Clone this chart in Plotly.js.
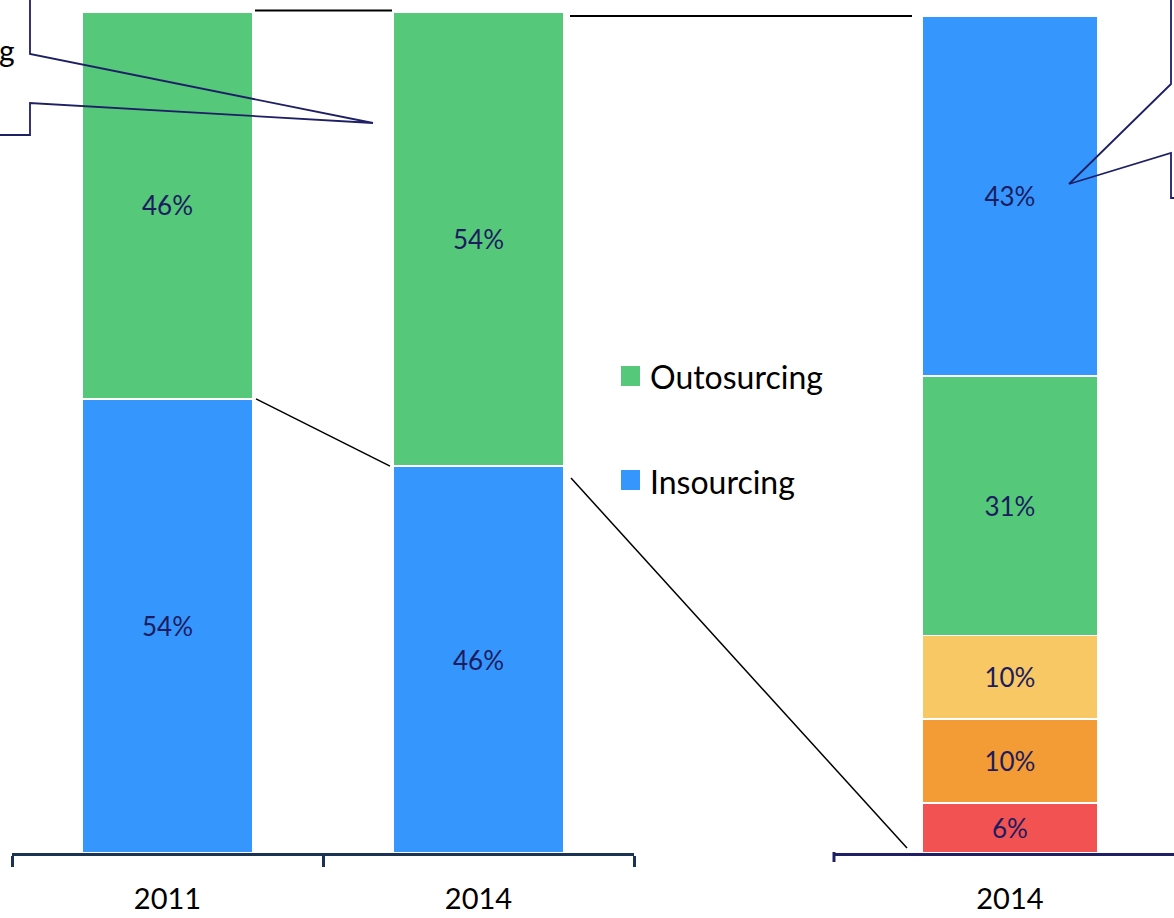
<!DOCTYPE html>
<html>
<head>
<meta charset="utf-8">
<script src="https://cdn.plot.ly/plotly-3.0.1.min.js"></script>
<style>html,body{margin:0;padding:0;background:#fff;}#chart{width:1174px;height:918px;}</style>
</head>
<body>
<div id="chart"></div>
<script>
// ---- data ----
const years = ["2011", "2014"];
const insourcing = [54, 46];
const outsourcing = [46, 54];
const breakdownYear = ["2014"];
const breakdownLabels = ["s1", "s2", "s3", "Outosurcing", "Insourcing"];
const breakdownValues = [6, 10, 10, 31, 43];
const breakdownColors = ["#F25252", "#F39B34", "#F7C864", "#55C87A", "#3597FE"];
const seriesNames = ["Insourcing", "Outosurcing"];
const seriesColors = ["#3597FE", "#55C87A"];
const legendNames = ["Outosurcing", "Insourcing"];
const legendColors = ["#55C87A", "#3597FE"];

// ---- layout helpers (pixel -> paper) ----
const W = 1174, H = 918, MT = 12, MB = 65;
const plotH = H - MT - MB;
const baseY = H - MB;
const px = x => x / W;
const py = y => (baseY - y) / plotH;

const labelColor = "#1c1c5e";
const fontFam = "Lato, 'Open Sans', sans-serif";
const barFontSize = 26;

const traces = [];
traces.push({
  type: "bar", x: years, y: insourcing, name: seriesNames[0],
  marker: {color: seriesColors[0], line: {color: "#ffffff", width: 1.5}},
  texttemplate: "%{y}%", textposition: "inside", insidetextanchor: "middle",
  textfont: {color: labelColor, size: barFontSize, family: fontFam},
  showlegend: false, xaxis: "x", yaxis: "y", hoverinfo: "skip"
});
traces.push({
  type: "bar", x: years, y: outsourcing, name: seriesNames[1],
  marker: {color: seriesColors[1], line: {color: "#ffffff", width: 1.5}},
  texttemplate: "%{y}%", textposition: "inside", insidetextanchor: "middle",
  textfont: {color: labelColor, size: barFontSize, family: fontFam},
  showlegend: false, xaxis: "x", yaxis: "y", hoverinfo: "skip"
});
breakdownValues.forEach((v, i) => {
  traces.push({
    type: "bar", x: breakdownYear, y: [v], name: breakdownLabels[i],
    marker: {color: breakdownColors[i], line: {color: "#ffffff", width: 1.5}},
    texttemplate: "%{y}%", textposition: "inside", insidetextanchor: "middle",
    textfont: {color: labelColor, size: barFontSize, family: fontFam},
    showlegend: false, xaxis: "x2", yaxis: "y2", hoverinfo: "skip"
  });
});

const splitL = insourcing[0], splitR = insourcing[1];
const navy = "#1f1f66";

const shapes = [
  // left chart connectors
  {type: "line", xref: "paper", yref: "paper", x0: px(255), x1: px(392), y0: py(10.5), y1: py(10.5), line: {color: "#000", width: 2}},
  {type: "line", xref: "paper", yref: "y", x0: px(256), x1: px(390), y0: splitL, y1: splitR, line: {color: "#000", width: 1.5}},
  // connectors to breakdown bar
  {type: "line", xref: "paper", yref: "y2", x0: px(570), x1: px(912), y0: 100, y1: 100, line: {color: "#000", width: 1.8}},
  {type: "line", xref: "paper", yref: "paper", x0: px(571), y0: py(478), x1: px(907), y1: py(848), line: {color: "#000", width: 1.5}},
  // small tick at left end of right axis
  {type: "line", xref: "paper", yref: "paper", x0: px(834), x1: px(834), y0: py(852), y1: py(862), line: {color: navy, width: 3}},
  // left callout
  {type: "path", xref: "paper", yref: "paper",
   path: `M ${px(30)} ${py(-5)} L ${px(30)} ${py(54)} L ${px(373)} ${py(123)} L ${px(30)} ${py(103)} L ${px(30)} ${py(135)} L ${px(-5)} ${py(135)}`,
   line: {color: navy, width: 1.8}},
  // right callout
  {type: "path", xref: "paper", yref: "paper",
   path: `M ${px(1171)} ${py(-5)} L ${px(1171)} ${py(84)} L ${px(1069)} ${py(184)} L ${px(1171)} ${py(153)} L ${px(1171)} ${py(198)} L ${px(1180)} ${py(198)}`,
   line: {color: navy, width: 1.8}}
];

const annotations = [
  {xref: "paper", yref: "paper", x: px(-3), y: py(50), xanchor: "left", yanchor: "middle",
   text: "g", showarrow: false, font: {size: 30, color: "#000", family: fontFam}}
];

// manual legend (squares + labels)
const legendTop = [376, 480];
legendNames.forEach((n, i) => {
  const cy = legendTop[i];
  shapes.push({type: "rect", xref: "paper", yref: "paper",
    x0: px(621), x1: px(640), y0: py(cy - 10), y1: py(cy + 10),
    fillcolor: legendColors[i], line: {width: 0}});
  annotations.push({xref: "paper", yref: "paper", x: px(648), y: py(cy + 1),
    xanchor: "left", yanchor: "middle", text: n, showarrow: false,
    font: {size: 32, color: "#000", family: fontFam}});
});

const layout = {
  width: W, height: H,
  margin: {l: 0, r: 0, t: MT, b: MB},
  paper_bgcolor: "#fff", plot_bgcolor: "rgba(0,0,0,0)",
  barmode: "stack", bargap: 0.45,
  showlegend: false,
  xaxis: {domain: [px(12), px(634)], type: "category", range: [-0.5, 1.5],
          showline: true, linecolor: "#1b3352", linewidth: 3,
          ticks: "outside", tickson: "boundaries", ticklen: 11, tickwidth: 3, tickcolor: "#1b3352",
          ticklabelstandoff: 18,
          tickfont: {size: 29, color: "#000", family: fontFam}, showgrid: false, zeroline: false, fixedrange: true},
  yaxis: {range: [0, 100], visible: false, showgrid: false, zeroline: false, fixedrange: true},
  xaxis2: {domain: [px(833), 1], type: "category", range: [-0.553, 0.513], anchor: "y2",
           showline: true, linecolor: navy, linewidth: 3, ticks: "", ticklabelstandoff: 18,
           tickfont: {size: 29, color: "#000", family: fontFam}, showgrid: false, zeroline: false, fixedrange: true},
  yaxis2: {range: [0, 100.48], visible: false, anchor: "x2", overlaying: "y", showgrid: false, zeroline: false, fixedrange: true},
  shapes: shapes,
  annotations: annotations
};

Plotly.newPlot("chart", traces, layout, {displayModeBar: false, staticPlot: true});
</script>
</body>
</html>
